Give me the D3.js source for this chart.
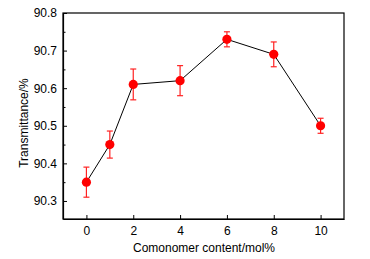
<!DOCTYPE html>
<html><head><meta charset="utf-8">
<script src="https://cdn.jsdelivr.net/npm/d3@7"></script>
<style>body{margin:0;background:#fff}svg{display:block}</style>
</head><body>
<script>
const content = [0, 1, 2, 4, 6, 8, 10];
const transmittance = [90.35, 90.45, 90.61, 90.62, 90.73, 90.69, 90.50];
const errors = [0.04, 0.036, 0.041, 0.04, 0.02, 0.033, 0.02];
const xTicks = [0, 2, 4, 6, 8, 10];
const yTicks = [90.3, 90.4, 90.5, 90.6, 90.7, 90.8];
const yMinor = [90.35, 90.45, 90.55, 90.65, 90.75];

const W = 370, H = 259;
const m = {l: 63, t: 13, r: 344, b: 219};
const svg = d3.select("body").append("svg").attr("width", W).attr("height", H);
const x = d3.scaleLinear().domain([-1, 11]).range([m.l, m.r]);
const y = d3.scaleLinear().domain([90.252, 90.8]).range([m.b, m.t]);
const font = "'Liberation Sans', Arial, sans-serif";

// frame
svg.append("rect").attr("x", m.l).attr("y", m.t).attr("width", m.r - m.l).attr("height", m.b - m.t)
  .attr("fill", "none").attr("stroke", "#000").attr("stroke-width", 1.2);

const xa = svg.append("g").attr("transform", `translate(0,${m.b})`)
  .call(d3.axisBottom(x).tickValues(xTicks).tickFormat(d3.format("d")).tickSizeInner(-4).tickSizeOuter(0).tickPadding(7));
const ya = svg.append("g").attr("transform", `translate(${m.l},0)`)
  .call(d3.axisLeft(y).tickValues(yTicks).tickFormat(d3.format(".1f")).tickSizeInner(-4).tickSizeOuter(0).tickPadding(6));
svg.append("g").attr("transform", `translate(${m.l},0)`)
  .call(d3.axisLeft(y).tickValues(yMinor).tickFormat("").tickSizeInner(-2.5).tickSizeOuter(0))
  .select(".domain").remove();
[xa, ya].forEach(a => {
  a.select(".domain").attr("stroke-width", 1.2);
  a.selectAll("text").attr("font-family", font).attr("font-size", 12).attr("fill", "#000");
});

// line
const pts = content.map((c, i) => ({c, v: transmittance[i], e: errors[i]}));
svg.append("path").datum(pts)
  .attr("d", d3.line().x(d => x(d.c)).y(d => y(d.v)))
  .attr("fill", "none").attr("stroke", "#000").attr("stroke-width", 1);

// error bars
const eb = svg.append("g").attr("stroke", "#f22").attr("stroke-width", 1.2);
pts.forEach(d => {
  const cx = x(d.c);
  eb.append("line").attr("x1", cx).attr("x2", cx).attr("y1", y(d.v + d.e)).attr("y2", y(d.v - d.e));
  eb.append("line").attr("x1", cx - 3).attr("x2", cx + 3).attr("y1", y(d.v + d.e)).attr("y2", y(d.v + d.e));
  eb.append("line").attr("x1", cx - 3).attr("x2", cx + 3).attr("y1", y(d.v - d.e)).attr("y2", y(d.v - d.e));
});

// markers
svg.append("g").selectAll("circle").data(pts).join("circle")
  .attr("cx", d => x(d.c)).attr("cy", d => y(d.v)).attr("r", 4.6).attr("fill", "#f00");

// titles
svg.append("text").attr("x", 204).attr("y", 252).attr("text-anchor", "middle")
  .attr("font-family", font).attr("font-size", 12).text("Comonomer content/mol%");
svg.append("text").attr("transform", "translate(28,123) rotate(-90)").attr("text-anchor", "middle")
  .attr("font-family", font).attr("font-size", 12).text("Transmittance/%");
</script>
</body></html>
